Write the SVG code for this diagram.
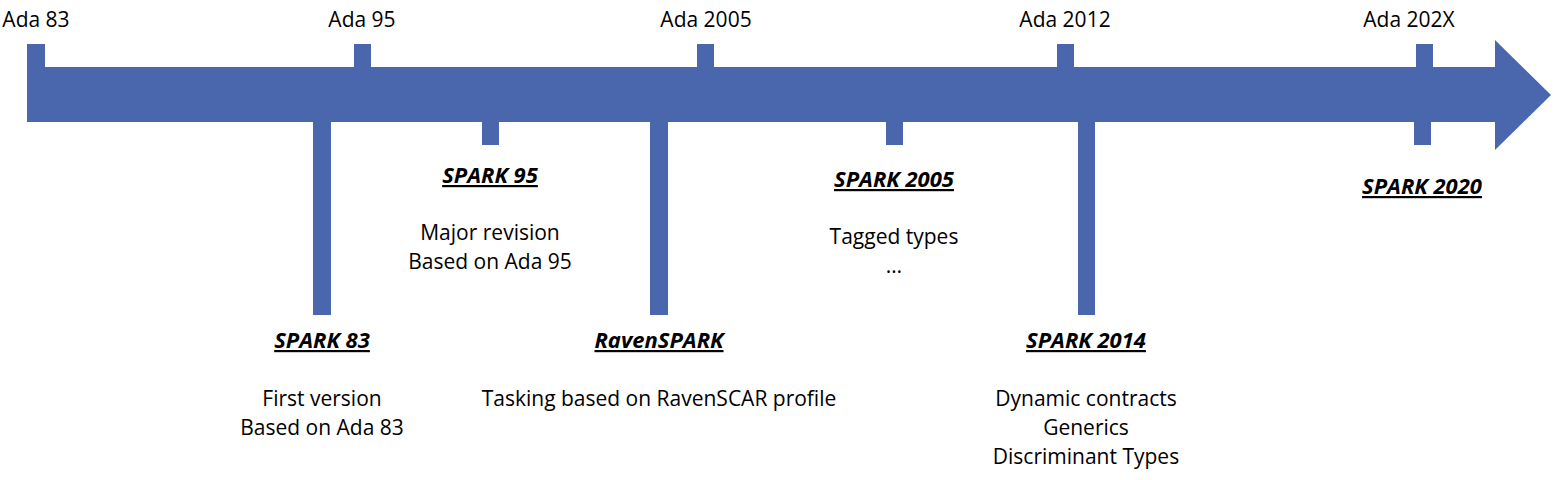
<svg xmlns="http://www.w3.org/2000/svg" width="1559" height="480" viewBox="0 0 1559 480">
<style>
.bar{fill:#4a66ad}
text{font-family:"Open Sans","Liberation Sans",sans-serif;font-size:21px;fill:#000;text-anchor:middle}
.h{font-size:22px;font-weight:bold;font-style:italic;text-decoration:underline}
</style>
<rect width="1559" height="480" fill="#fff"/>
<g id="connectors">
<rect class="bar" x="27" y="67" width="1469" height="55"/>
<polygon class="bar" points="1495,40 1551,95 1495,150"/>
</g>
<g id="ada83"><rect class="bar" x="27" y="44" width="18" height="24"/><text x="36" y="27">Ada 83</text></g>
<g id="ada95"><rect class="bar" x="354" y="44" width="17" height="24"/><text x="362" y="27">Ada 95</text></g>
<g id="ada2005"><rect class="bar" x="697" y="44" width="17" height="24"/><text x="706" y="27">Ada 2005</text></g>
<g id="ada2012"><rect class="bar" x="1057" y="44" width="17" height="24"/><text x="1065" y="27">Ada 2012</text></g>
<g id="ada202x"><rect class="bar" x="1416" y="44" width="17" height="24"/><text x="1409" y="27">Ada 202X</text></g>
<g id="spark83"><rect class="bar" x="313" y="121" width="18" height="194"/><text class="h" x="322" y="348">SPARK 83</text><text x="322" y="406">First version</text><text x="322" y="435">Based on Ada 83</text></g>
<g id="spark95"><rect class="bar" x="482" y="121" width="17" height="24"/><text class="h" x="490" y="183">SPARK 95</text><text x="490" y="240">Major revision</text><text x="490" y="269">Based on Ada 95</text></g>
<g id="ravenspark"><rect class="bar" x="650" y="121" width="18" height="194"/><text class="h" x="659" y="348">RavenSPARK</text><text x="659" y="406">Tasking based on RavenSCAR profile</text></g>
<g id="spark2005"><rect class="bar" x="886" y="121" width="17" height="24"/><text class="h" x="894" y="187">SPARK 2005</text><text x="894" y="244">Tagged types</text><text x="894" y="273">…</text></g>
<g id="spark2014"><rect class="bar" x="1078" y="121" width="17" height="194"/><text class="h" x="1086" y="348">SPARK 2014</text><text x="1086" y="406">Dynamic contracts</text><text x="1086" y="435">Generics</text><text x="1086" y="464">Discriminant Types</text></g>
<g id="spark2020"><rect class="bar" x="1414" y="121" width="17" height="24"/><text class="h" x="1422" y="194">SPARK 2020</text></g>
</svg>
